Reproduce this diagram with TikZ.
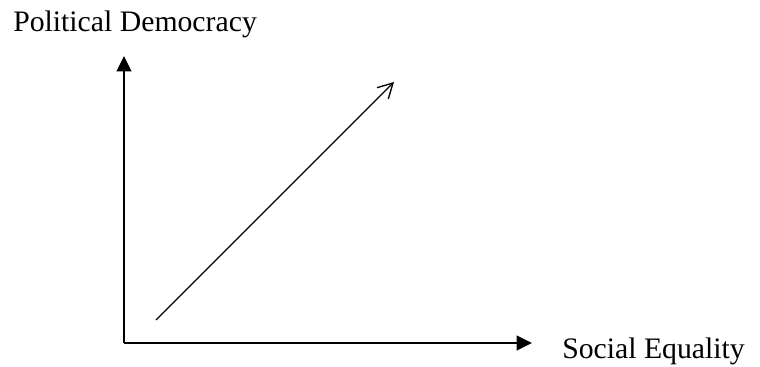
\documentclass[tikz,border=0pt]{standalone}
\usepackage{fontspec}
\setmainfont{Liberation Serif}
\usetikzlibrary{arrows.meta}
\begin{document}
\begin{tikzpicture}[x=0.75pt,y=-0.75pt,
  lbl/.style={anchor=base west,inner sep=0pt,font=\fontsize{22.3}{26}\selectfont},
  axis/.style={line width=1.5pt,-{Triangle[length=11.5pt,width=11pt]}},
  trend/.style={line width=1pt,-{Straight Barb[length=11pt,width=12pt,line width=1pt]}}]
\useasboundingbox (0,0) rectangle (760,367);
\coordinate (O) at (124,343);
\coordinate (Ytop) at (124,56);
\coordinate (Xend) at (532,343);
\coordinate (D1) at (156,320);
\coordinate (D2) at (394,82);
\node[lbl] (pd) at (13,32) {Political Democracy};
\node[lbl] (se) at (562,358) {Social Equality};
\draw[axis] (O) -- (Ytop);
\draw[axis] (O) -- (Xend);
\draw[trend] (D1) -- (D2);
\end{tikzpicture}
\end{document}
